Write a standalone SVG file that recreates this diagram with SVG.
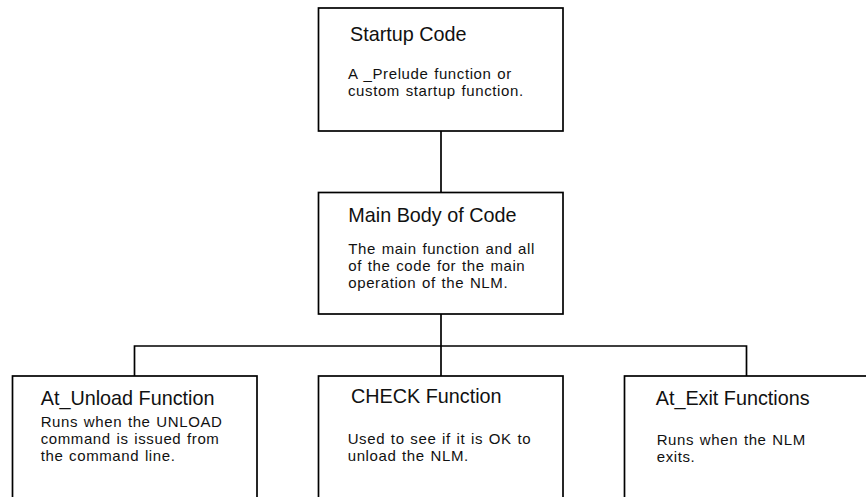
<svg xmlns="http://www.w3.org/2000/svg" width="866" height="497" viewBox="0 0 866 497">
<style>
.box{fill:#fff;stroke:#000;stroke-width:1.7}
.conn{fill:none;stroke:#000;stroke-width:1.7}
text{font-family:"Liberation Sans",Arial,sans-serif;fill:#111}
.t{font-size:19.8px}
.b{font-size:15px;letter-spacing:0.6px;word-spacing:1px}
</style>
<rect width="866" height="497" fill="#fff"/>
<g id="connectors">
<line class="conn" x1="441" y1="131" x2="441" y2="192"/>
<polyline class="conn" points="441,314 441,346"/>
<polyline class="conn" points="134.5,376 134.5,346 746.5,346 746.5,376"/>
<line class="conn" x1="441" y1="346" x2="441" y2="376"/>
</g>
<g id="startup">
<rect class="box" x="318.5" y="8" width="244.5" height="123"/>
<text class="t" x="350" y="40.7">Startup Code</text>
<text class="b" x="348" y="79">A _Prelude function or</text>
<text class="b" x="348" y="96">custom startup function.</text>
</g>
<g id="main">
<rect class="box" x="318.5" y="192.5" width="244.5" height="121.5"/>
<text class="t" x="348.3" y="221.7">Main Body of Code</text>
<text class="b" x="348.3" y="254">The main function and all</text>
<text class="b" x="348.3" y="271">of the code for the main</text>
<text class="b" x="348.3" y="288">operation of the NLM.</text>
</g>
<g id="atunload">
<rect class="box" x="12.5" y="376" width="244.5" height="140"/>
<text class="t" x="40.7" y="405">At_Unload Function</text>
<text class="b" x="40.7" y="426.5">Runs when the UNLOAD</text>
<text class="b" x="40.7" y="443.5">command is issued from</text>
<text class="b" x="40.7" y="460.5">the command line.</text>
</g>
<g id="check">
<rect class="box" x="318.5" y="376" width="244.5" height="140"/>
<text class="t" x="351" y="402.7">CHECK Function</text>
<text class="b" x="347.7" y="443.5">Used to see if it is OK to</text>
<text class="b" x="347.7" y="460.5">unload the NLM.</text>
</g>
<g id="atexit">
<rect class="box" x="624.5" y="376" width="244.5" height="140"/>
<text class="t" x="655.7" y="405">At_Exit Functions</text>
<text class="b" x="656.7" y="444.5">Runs when the NLM</text>
<text class="b" x="656.7" y="461.5">exits.</text>
</g>
</svg>
